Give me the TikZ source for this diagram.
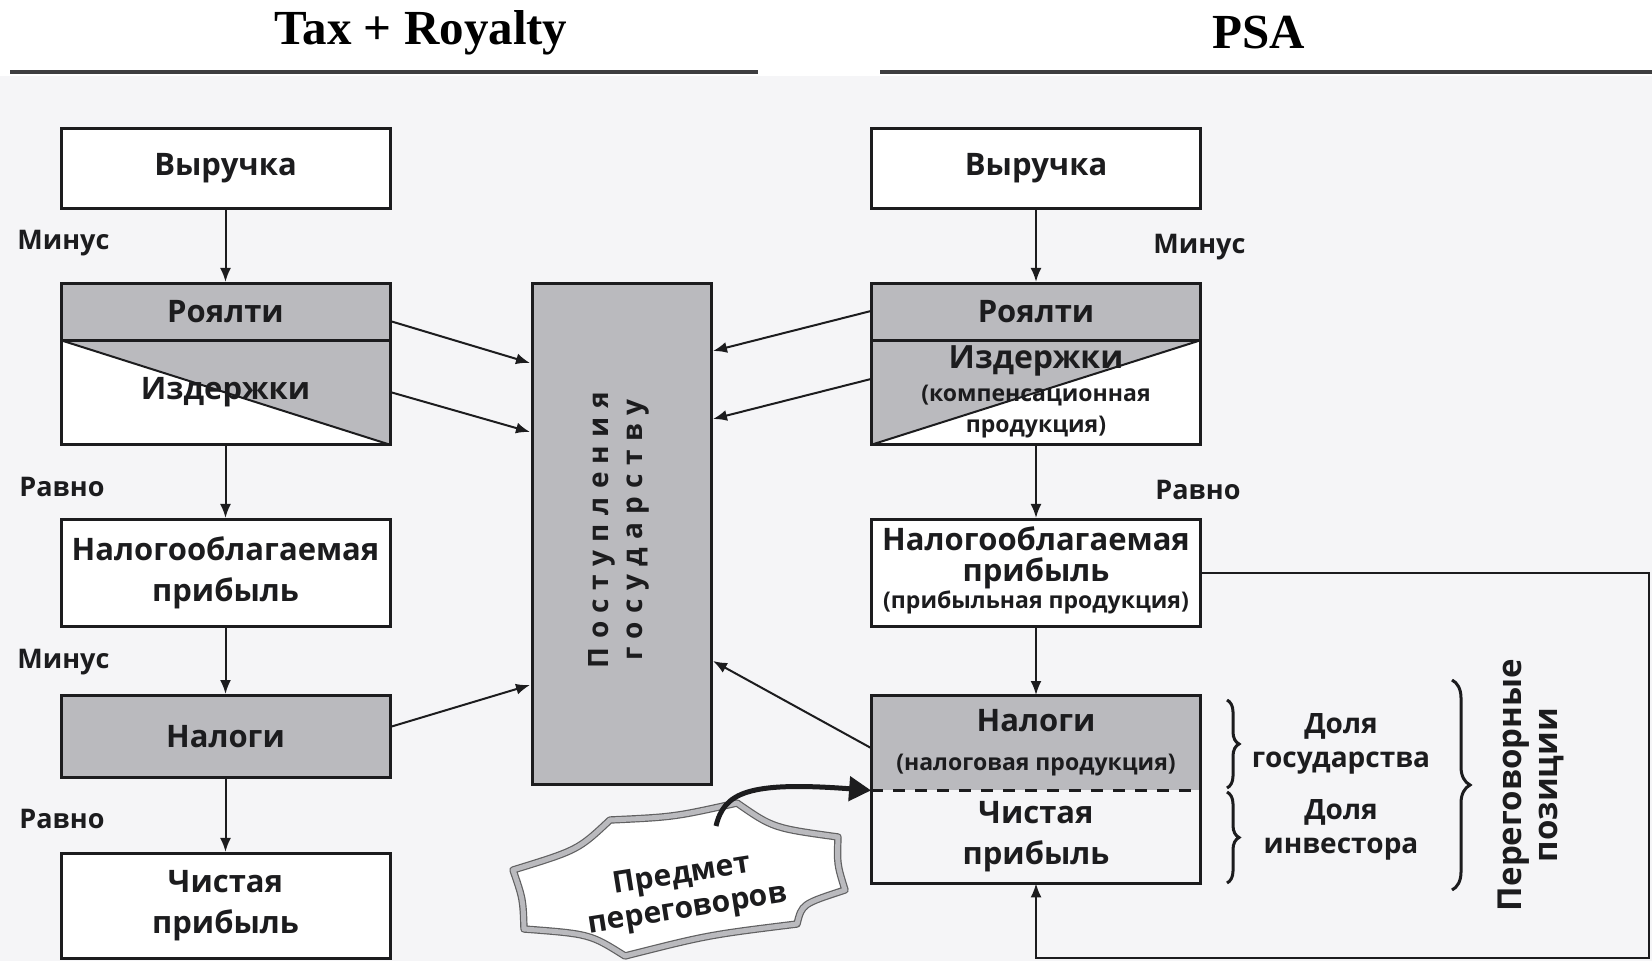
\documentclass[tikz,border=0pt]{standalone}
\usepackage{fontspec}
\setmainfont{Open Sans}
\newfontfamily\titlefont{Liberation Serif}
\usetikzlibrary{arrows.meta,decorations.pathreplacing,calc}
\definecolor{boxgray}{RGB}{186,186,190}
\definecolor{bgcol}{RGB}{245,245,247}
\definecolor{ink}{RGB}{28,28,30}
\begin{document}
\begin{tikzpicture}[x=0.5pt,y=-0.5pt,
  box/.style={draw=ink, line width=1.5pt, minimum width=164.5pt, inner sep=0pt, align=center,
    font=\bfseries\fontsize{15.5}{20.5}\selectfont, text=ink},
  graybox/.style={box, fill=boxgray},
  plain/.style={inner sep=0pt, align=center, minimum width=164.5pt, text=ink, font=\bfseries\fontsize{15.5}{20.5}\selectfont},
  flow/.style={draw=ink, line width=1pt, -{Latex[length=7pt,width=5.5pt]}},
  lbl/.style={font=\bfseries\fontsize{13.5}{15}\selectfont, text=ink, anchor=west, inner sep=0pt},
  side/.style={font=\bfseries\fontsize{14}{17}\selectfont, text=ink, align=center, inner sep=0pt},
  brc/.style={draw=ink, line width=1.5pt, decorate, decoration={brace, amplitude=#1}},
  title/.style={font=\titlefont\bfseries\fontsize{24.5}{26}\selectfont, text=black, inner sep=0pt}
]
\useasboundingbox (0,0) rectangle (1652,961);
\fill[white] (0,0) rectangle (1652,961);
\fill[bgcol] (0,76) rectangle (1652,961);

% titles
\node[title] (t1) at (421,33) {Tax + Royalty};
\node[title] (t2) at (1259,33) {PSA};
\draw[line width=2pt, ink!85] (10,72) -- (758,72);
\draw[line width=2pt, ink!85] (880,72) -- (1652,72);

% ---------- left column ----------
\node[box, minimum height=40pt, fill=white] (lrev) at (225.5,168.5) {Выручка};
\node[box, minimum height=52.2pt, fill=white,
  path picture={\fill[boxgray] (path picture bounding box.north west) -- (path picture bounding box.north east) -- (path picture bounding box.south east) -- cycle;
  \draw[ink, line width=1pt] (path picture bounding box.north west) -- (path picture bounding box.south east);}] (lcost) at (225.5,392.5) {Издержки};
\node[graybox, minimum height=28.5pt] (lroy) at (225.5,311.9) {Роялти};
\node[box, minimum height=53.75pt, fill=white] (lnp) at (225.5,573.2) {Налогооблагаемая\\прибыль};
\node[graybox, minimum height=41pt] (ltax) at (225.5,736.5) {Налоги};
\node[box, minimum height=52.3pt, fill=white] (lnet) at (225.5,905.7) {Чистая\\прибыль};

\node[lbl] (m1) at (17,243) {Минус};
\node[lbl] (r1) at (19,487) {Равно};
\node[lbl] (m2) at (17,662) {Минус};
\node[lbl] (r2) at (19,819) {Равно};

\draw[flow] (lrev) -- (lroy);
\draw[flow] (lcost) -- (lnp);
\draw[flow] (lnp) -- (ltax);
\draw[flow] (ltax) -- (lnet);

% ---------- centre ----------
\node[graybox, minimum width=89.5pt, minimum height=250.3pt] (gov) at (621.5,533.7) {};
\node[rotate=90, inner sep=0pt, align=center, text=ink,
  font=\bfseries\fontsize{14}{17}\selectfont\addfontfeature{LetterSpace=30}] (govtxt) at (619,530) {Поступления\\государству};

\coordinate (a1s) at (390,321);
\coordinate (a1e) at (530,363);
\coordinate (a2s) at (390,392);
\coordinate (a2e) at (530,432);
\coordinate (a3s) at (390,727);
\coordinate (a3e) at (530,685);
\draw[flow] (a1s) -- (a1e);
\draw[flow] (a2s) -- (a2e);
\draw[flow] (a3s) -- (a3e);

% ---------- right column ----------
\node[box, minimum height=40pt, fill=white] (rrev) at (1036,168.5) {Выручка};
\node[box, minimum height=52.2pt, fill=white,
  path picture={\fill[boxgray] (path picture bounding box.north west) -- (path picture bounding box.north east) -- (path picture bounding box.south west) -- cycle;
  \draw[ink, line width=1pt] (path picture bounding box.north east) -- (path picture bounding box.south west);}] (rcost) at (1036,392.5) {};
\node[plain] (rcosttxt) at (1036,392) {{\fontsize{16}{20}\selectfont Издержки}\\[-4pt]{\fontsize{11.5}{15}\selectfont (компенсационная}\\[-5pt]{\fontsize{11.5}{15}\selectfont продукция)}};
\node[graybox, minimum height=28.5pt] (rroy) at (1036,311.9) {Роялти};
\node[box, minimum height=53.75pt, fill=white] (rnp) at (1036,573.2) {};
\node[plain] (rnptxt) at (1036,570) {Налогооблагаемая\\[-5pt]прибыль\\[-7pt]{\fontsize{11.5}{15}\selectfont (прибыльная продукция)}};
\node[plain, minimum height=47.3pt, fill=boxgray] (rtax) at (1036,742.7) {Налоги\\[-1pt]{\fontsize{11.5}{15}\selectfont (налоговая продукция)}};
\node[plain, minimum height=46.5pt] (rnet) at (1036,836.5) {Чистая\\прибыль};
\draw[ink, line width=1.5pt] (rtax.north west) rectangle (rnet.south east);
\draw[ink, line width=1.2pt, dash pattern=on 6pt off 5pt] (rtax.south west) -- (rtax.south east);

\node[lbl] (m3) at (1153,247) {Минус};
\node[lbl] (r3) at (1155,490) {Равно};

\draw[flow] (rrev) -- (rroy);
\draw[flow] (rcost) -- (rnp);
\draw[flow] (rnp) -- (rtax);

\coordinate (b1s) at (871,311);
\coordinate (b1e) at (713,351);
\coordinate (b2s) at (871,379);
\coordinate (b2e) at (713,419);
\coordinate (b3s) at (871,748);
\coordinate (b3e) at (713,661);
\draw[flow] (b1s) -- (b1e);
\draw[flow] (b2s) -- (b2e);
\draw[flow] (b3s) -- (b3e);

% loop from taxable profit back to net profit
\coordinate (lp1) at (1649,573.2);
\coordinate (lp2) at (1649,958);
\coordinate (lp3) at (1036,958);
\draw[flow] (rnp.east) -- (lp1) -- (lp2) -- (lp3) -- (rnet.south);

% braces and side texts
\draw[brc=6pt] (1227,700) -- (1227,788);
\draw[brc=6pt] (1227,792) -- (1227,883);
\draw[brc=9pt] (1452,680) -- (1452,890);
\node[side] (dg) at (1341,744) {Доля\\государства};
\node[side] (di) at (1341,830) {Доля\\инвестора};
\node[side, rotate=90, font=\bfseries\fontsize{16.5}{18}\selectfont] (pp) at (1531,785) {Переговорные\\позиции};

% subject of negotiation
\draw[draw=ink!70, double=boxgray, double distance=2.5pt, line width=0.6pt, fill=white, line join=round]
  (513,870) .. controls (578,850) .. (610,820)
  .. controls (674,817) .. (737,803)
  .. controls (773,828) .. (838,837)
  .. controls (837,864) .. (845,890)
  .. controls (802,904) .. (797,924)
  .. controls (708,935) .. (625,956)
  .. controls (590,934) .. (524,929)
  .. controls (523,899) .. cycle;
\node[rotate=9, inner sep=0pt, align=center, text=ink, font=\bfseries\fontsize{15}{17.5}\selectfont] (subj) at (685,893) {Предмет\\переговоров};
\coordinate (cs) at (716,826);
\draw[ink, line width=2.5pt, -{Triangle[length=11pt,width=12pt]}] (cs) .. controls (724,793) and (747,781) .. (rtax.south west);
\end{tikzpicture}
\end{document}
